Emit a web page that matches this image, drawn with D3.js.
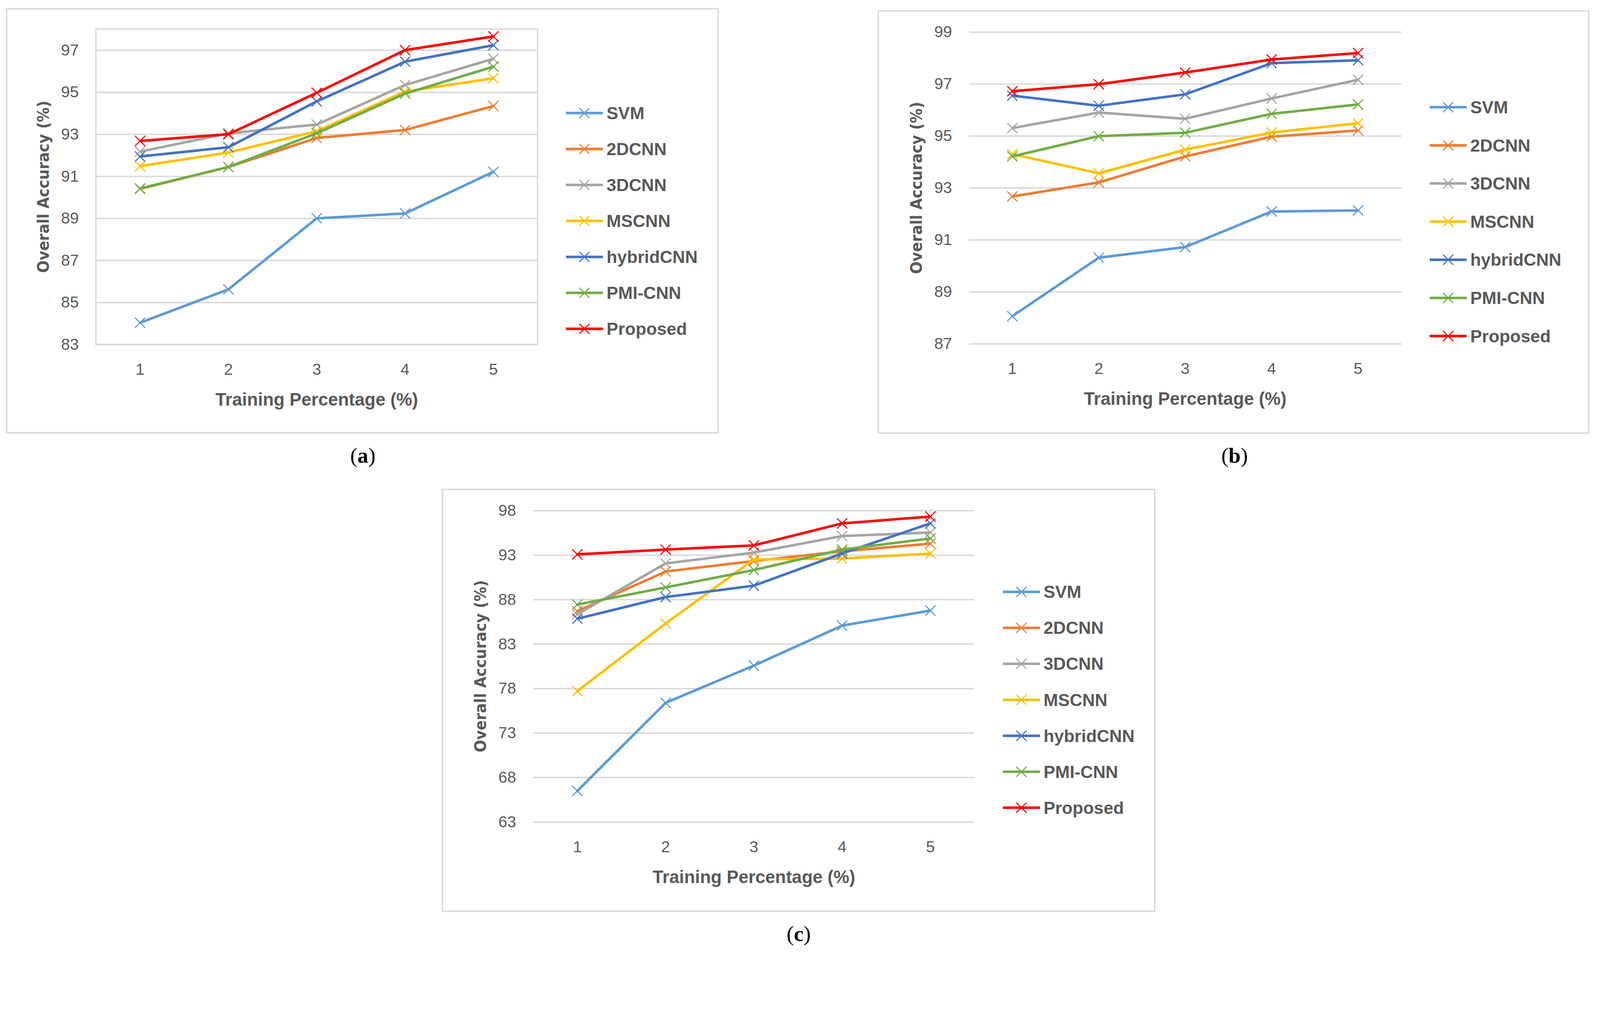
<!DOCTYPE html>
<html>
<head>
<meta charset="utf-8">
<script src="https://cdn.jsdelivr.net/npm/d3@7/dist/d3.min.js"></script>
<style>
  html, body { margin: 0; padding: 0; background: #fff; overflow: hidden; }
  svg { display: block; }
</style>
</head>
<body>
<div id="chart"></div>
<script>
var svgWidth = 4405;
var svgHeight = 2618;

// data
var categories = [1, 2, 3, 4, 5];
var seriesNames = ["SVM", "2DCNN", "3DCNN", "MSCNN", "hybridCNN", "PMI-CNN", "Proposed"];

var valuesA = [
  [84.03, 85.62, 89.0, 89.23, 91.21],
  [90.4, 91.44, 92.82, 93.2, 94.34],
  [92.17, 93.04, 93.46, 95.34, 96.59],
  [91.48, 92.13, 93.14, 95.03, 95.66],
  [91.94, 92.38, 94.56, 96.45, 97.23],
  [90.42, 91.44, 93.04, 94.93, 96.21],
  [92.68, 93.0, 94.97, 97.0, 97.65]
];
var valuesB = [
  [88.06, 90.31, 90.72, 92.09, 92.13],
  [92.67, 93.21, 94.21, 94.97, 95.21],
  [95.30, 95.90, 95.66, 96.44, 97.16],
  [94.30, 93.56, 94.47, 95.13, 95.49],
  [96.55, 96.16, 96.60, 97.80, 97.91],
  [94.21, 94.99, 95.12, 95.85, 96.21],
  [96.72, 96.99, 97.44, 97.94, 98.19]
];
var valuesC = [
  [66.48, 76.38, 80.57, 85.06, 86.75],
  [86.68, 91.14, 92.32, 93.41, 94.28],
  [86.34, 92.05, 93.27, 95.13, 95.53],
  [77.7, 85.3, 92.5, 92.6, 93.17],
  [85.84, 88.27, 89.55, 93.17, 96.55],
  [87.43, 89.35, 91.31, 93.61, 94.86],
  [93.07, 93.61, 94.08, 96.55, 97.32]
];

var ticksA = [83, 85, 87, 89, 91, 93, 95, 97];
var ticksB = [87, 89, 91, 93, 95, 97, 99];
var ticksC = [63, 68, 73, 78, 83, 88, 93, 98];

var seriesColors = ["#5B9BD5", "#ED7D31", "#A5A5A5", "#FFC000", "#4472C4", "#70AD47", "#FF0000"];
var textColor = "#595959";
var gridColor = "#D9D9D9";
var sansFont = "'Liberation Sans', Arial, sans-serif";

// fit the drawing to the window width, keep the aspect
var svg = d3.select("#chart")
  .append("svg")
  .attr("viewBox", `0 0 ${svgWidth} ${svgHeight}`)
  .style("width", "100vw")
  .style("height", `calc(100vw * ${svgHeight} / ${svgWidth})`);

svg.append("rect")
  .attr("width", svgWidth)
  .attr("height", svgHeight)
  .attr("fill", "#fff");

var panels = [
  { values: valuesA, ticks: ticksA, domain: [83, 98], label: "a",
    box: [18, 24, 1977, 1191], plot: [264, 80, 1480, 948], plotBorder: true,
    legendTop: 311, legendStep: 99, caption: [999, 1273] },
  { values: valuesB, ticks: ticksB, domain: [87, 99], label: "b",
    box: [2418, 30, 4374, 1192], plot: [2668, 88, 3858, 946], plotBorder: false,
    legendTop: 295, legendStep: 105, caption: [3399, 1273] },
  { values: valuesC, ticks: ticksC, domain: [63, 98], label: "c",
    box: [1218, 1347, 3179, 2508], plot: [1468, 1405, 2683, 2262], plotBorder: false,
    legendTop: 1629, legendStep: 99, caption: [2199, 2590] }
];

// x marker path centred on 0,0
function crossPath(s) {
  return `M${-s},${-s}L${s},${s}M${-s},${s}L${s},${-s}`;
}

function drawPanel(p) {
  var g = svg.append("g");
  var left = p.plot[0], top = p.plot[1], right = p.plot[2], bottom = p.plot[3];

  // outer frame
  g.append("rect")
    .attr("x", p.box[0])
    .attr("y", p.box[1])
    .attr("width", p.box[2] - p.box[0])
    .attr("height", p.box[3] - p.box[1])
    .attr("fill", "none")
    .attr("stroke", gridColor)
    .attr("stroke-width", 4);

  var x = d3.scaleBand()
    .domain(categories)
    .range([left, right]);

  var y = d3.scaleLinear()
    .domain(p.domain)
    .range([bottom, top]);

  // gridlines
  var yGrid = d3.axisLeft(y)
    .tickValues(p.ticks)
    .tickSize(-(right - left))
    .tickFormat("");
  var gridG = g.append("g")
    .attr("transform", `translate(${left},0)`)
    .call(yGrid);
  gridG.select(".domain").remove();
  gridG.selectAll("line")
    .attr("stroke", gridColor)
    .attr("stroke-width", 4);

  if (p.plotBorder) {
    g.append("rect")
      .attr("x", left)
      .attr("y", top)
      .attr("width", right - left)
      .attr("height", bottom - top)
      .attr("fill", "none")
      .attr("stroke", gridColor)
      .attr("stroke-width", 4);
  }

  // y tick labels
  var yAxis = g.append("g")
    .attr("transform", `translate(${left},0)`)
    .call(d3.axisLeft(y).tickValues(p.ticks).tickSize(0).tickPadding(47));
  yAxis.select(".domain").remove();
  yAxis.selectAll("text")
    .attr("fill", textColor)
    .style("font-family", sansFont)
    .style("font-size", "44px");

  // x tick labels
  var xAxis = g.append("g")
    .attr("transform", `translate(0,${bottom})`)
    .call(d3.axisBottom(x).tickSize(0).tickPadding(52));
  xAxis.select(".domain").remove();
  xAxis.selectAll("text")
    .attr("fill", textColor)
    .style("font-family", sansFont)
    .style("font-size", "44px");

  // axis titles
  g.append("text")
    .attr("x", (left + right) / 2)
    .attr("y", bottom + 168)
    .attr("text-anchor", "middle")
    .attr("fill", textColor)
    .style("font-family", sansFont)
    .style("font-weight", "bold")
    .style("font-size", "49px")
    .text("Training Percentage (%)");

  g.append("text")
    .attr("transform", `translate(${left - 130},${(top + bottom) / 2}) rotate(-90)`)
    .attr("text-anchor", "middle")
    .attr("fill", textColor)
    .attr("textLength", 474)
    .attr("lengthAdjust", "spacingAndGlyphs")
    .style("font-family", "'DejaVu Sans', Verdana, sans-serif")
    .style("font-weight", "bold")
    .style("font-size", "44px")
    .text("Overall Accuracy (%)");

  // series
  var line = d3.line()
    .x((d, i) => x(categories[i]) + x.bandwidth() / 2)
    .y(d => y(d));

  p.values.forEach(function(vals, si) {
    var color = seriesColors[si];
    g.append("path")
      .datum(vals)
      .attr("d", line)
      .attr("fill", "none")
      .attr("stroke", color)
      .attr("stroke-width", 7)
      .attr("stroke-linejoin", "round")
      .attr("stroke-linecap", "round");

    g.selectAll(null)
      .data(vals)
      .enter()
      .append("path")
      .attr("transform", (d, i) => `translate(${x(categories[i]) + x.bandwidth() / 2},${y(d)})`)
      .attr("d", crossPath(14))
      .attr("fill", "none")
      .attr("stroke", color)
      .attr("stroke-width", 3);
  });

  // legend
  var legend = g.append("g")
    .attr("transform", `translate(${right + 78},${p.legendTop})`);
  seriesNames.forEach(function(name, si) {
    var row = legend.append("g")
      .attr("transform", `translate(0,${si * p.legendStep})`);
    row.append("line")
      .attr("x1", 0).attr("x2", 102)
      .attr("y1", 0).attr("y2", 0)
      .attr("stroke", seriesColors[si])
      .attr("stroke-width", 7);
    row.append("path")
      .attr("transform", "translate(51,0)")
      .attr("d", crossPath(14))
      .attr("fill", "none")
      .attr("stroke", seriesColors[si])
      .attr("stroke-width", 3);
    row.append("text")
      .attr("x", 112)
      .attr("y", 0)
      .attr("dy", "0.35em")
      .attr("fill", textColor)
      .style("font-family", sansFont)
      .style("font-weight", "bold")
      .style("font-size", "48px")
      .text(name);
  });

  // caption (a)/(b)/(c)
  var cap = g.append("text")
    .attr("x", p.caption[0])
    .attr("y", p.caption[1])
    .attr("text-anchor", "middle")
    .attr("fill", "#000")
    .style("font-family", "'Liberation Serif', 'Times New Roman', serif")
    .style("font-size", "60px");
  cap.append("tspan").text("(");
  cap.append("tspan").style("font-weight", "bold").text(p.label);
  cap.append("tspan").text(")");
}

panels.forEach(drawPanel);
</script>
</body>
</html>
